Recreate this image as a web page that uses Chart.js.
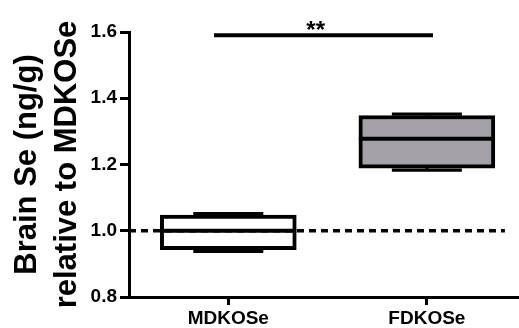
<!DOCTYPE html>
<html>
<head>
<meta charset="utf-8">
<script src="https://cdn.jsdelivr.net/npm/chart.js@4.4.1/dist/chart.umd.min.js"></script>
<style>
  html, body { margin: 0; padding: 0; background: #ffffff; }
  canvas { display: block; }
</style>
</head>
<body>
<canvas id="c" width="519" height="328"></canvas>
<script>
// Groups and min / quartile / max summaries of brain selenium (relative to MDKOSe)
const categories = ['MDKOSe', 'FDKOSe'];
const boxMin    = [0.938, 1.183];
const boxQ1     = [0.943, 1.189];
const boxMedian = [1.000, 1.278];
const boxQ3     = [1.047, 1.348];
const boxMax    = [1.052, 1.352];

// Axis ticks, reference level and significance annotation
const yTicks = [0.8, 1.0, 1.2, 1.4, 1.6];
const referenceLevel = 1.0;
const referenceSpan = [0.5, 2.393];
const sigSpan = [0.928, 2.031];
const sigLevel = 1.5905;
const sigLabel = '**';
const sigLabelX = 1.44;
const yTitle = ['Brain Se (ng/g)', 'relative to MDKOSe'];

const FONT = '"Liberation Sans", Arial, Helvetica, sans-serif';
const boxFills = ['#ffffff', '#a4a2a7'];

// Medians, whiskers and the asterisks are drawn on top of the bars
const boxExtras = {
  id: 'boxExtras',
  afterDatasetsDraw(chart) {
    const { ctx, scales: { x, y } } = chart;
    const meta = chart.getDatasetMeta(0);
    ctx.save();
    ctx.strokeStyle = '#000';
    ctx.lineCap = 'butt';
    categories.forEach((c, i) => {
      const bar = meta.data[i];
      const cx = x.getPixelForValue(i + 1);
      const half = bar.width / 2;
      const capHalf = half * 0.515;
      ctx.lineWidth = 3.3;
      [[boxQ3[i], boxMax[i]], [boxQ1[i], boxMin[i]]].forEach(([from, to]) => {
        const y0 = y.getPixelForValue(from);
        const y1 = y.getPixelForValue(to);
        ctx.beginPath(); ctx.moveTo(cx, y0); ctx.lineTo(cx, y1); ctx.stroke();
        ctx.beginPath(); ctx.moveTo(cx - capHalf, y1); ctx.lineTo(cx + capHalf, y1); ctx.stroke();
      });
      ctx.lineWidth = 4;
      const ym = y.getPixelForValue(boxMedian[i]);
      ctx.beginPath(); ctx.moveTo(cx - half, ym); ctx.lineTo(cx + half, ym); ctx.stroke();
    });
    ctx.fillStyle = '#000';
    ctx.font = 'bold 24px ' + FONT;
    ctx.textAlign = 'center';
    ctx.textBaseline = 'alphabetic';
    ctx.fillText(sigLabel, x.getPixelForValue(sigLabelX), y.getPixelForValue(sigLevel) + 2.5);
    ctx.restore();
  }
};

new Chart(document.getElementById('c'), {
  type: 'bar',
  data: {
    datasets: [
      {
        type: 'bar',
        order: 2,
        data: categories.map((c, i) => ({ x: i + 1, y: [boxQ1[i], boxQ3[i]] })),
        backgroundColor: boxFills,
        borderColor: '#000',
        borderWidth: 4,
        borderSkipped: false,
        barThickness: 136
      },
      {
        type: 'line',
        order: 1,
        data: referenceSpan.map(v => ({ x: v, y: referenceLevel })),
        borderColor: '#000',
        borderWidth: 3.5,
        borderDash: [7, 5],
        pointRadius: 0,
        fill: false,
        clip: false
      },
      {
        type: 'line',
        order: 1,
        data: sigSpan.map(v => ({ x: v, y: sigLevel })),
        borderColor: '#000',
        borderWidth: 4,
        pointRadius: 0,
        fill: false,
        clip: false
      }
    ]
  },
  options: {
    responsive: false,
    animation: false,
    devicePixelRatio: 1,
    layout: { padding: { top: 32, right: 0, bottom: 0, left: 0 } },
    plugins: { legend: { display: false }, tooltip: { enabled: false } },
    scales: {
      x: {
        type: 'linear',
        offset: false,
        min: 0.5,
        max: 2.464,
        afterBuildTicks: s => { s.ticks = categories.map((c, i) => ({ value: i + 1 })); },
        afterFit: s => { s.height = 31; },
        ticks: {
          callback: v => categories[Math.round(v) - 1],
          color: '#000',
          font: { family: FONT, size: 19, weight: 'bold' },
          padding: 2,
          maxRotation: 0,
          autoSkip: false
        },
        grid: { offset: false, drawOnChartArea: false, drawTicks: true, tickLength: 8, tickWidth: 3, tickColor: '#000' },
        border: { display: true, width: 3, color: '#000' }
      },
      y: {
        type: 'linear',
        min: 0.8,
        max: 1.6,
        afterBuildTicks: s => { s.ticks = yTicks.map(v => ({ value: v })); },
        afterFit: s => { s.width = 129; },
        ticks: {
          callback: v => v.toFixed(1),
          color: '#000',
          font: { family: FONT, size: 19, weight: 'bold' },
          padding: 3
        },
        grid: { drawOnChartArea: false, drawTicks: true, tickLength: 9, tickWidth: 3, tickColor: '#000' },
        border: { display: true, width: 3, color: '#000' },
        title: {
          display: true,
          text: yTitle,
          color: '#000',
          font: { family: FONT, size: 31, weight: 'bold', lineHeight: 40 / 31 },
          padding: { top: 7, bottom: 0 }
        }
      }
    }
  },
  plugins: [boxExtras]
});
</script>
</body>
</html>
